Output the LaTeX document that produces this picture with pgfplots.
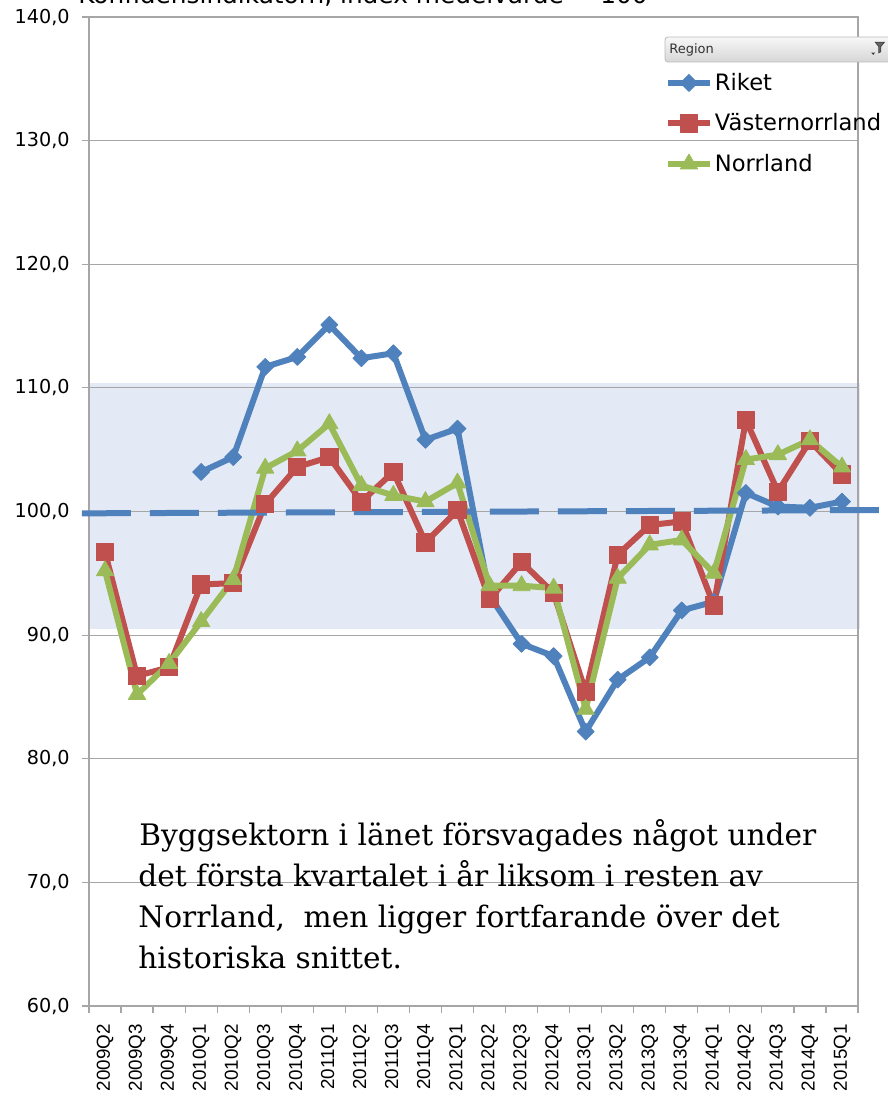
\documentclass[border=0pt]{standalone}
\usepackage{fontspec}
\usepackage{pgfplots}
\pgfplotsset{compat=1.18}
\setmainfont{DejaVu Sans}
\newfontfamily\ytf{DejaVu Sans}
\newfontfamily\xtf{Liberation Sans}
\newfontfamily\annf{DejaVu Serif}
\definecolor{cBlue}{HTML}{4F81BD}
\definecolor{cRed}{HTML}{C0504D}
\definecolor{cGreen}{HTML}{9BBB59}
\definecolor{band}{HTML}{E3EAF5}
\definecolor{gridc}{HTML}{A6A6A6}
\begin{document}
\begin{tikzpicture}
\begin{axis}[
  at={(44.5pt,45.5pt)}, anchor=south west,
  scale only axis, width=384.5pt, height=494.5pt,
  xmin=-0.5, xmax=23.5, ymin=60, ymax=140,
  ytick={60,70,...,140},
  xtick={0,...,23},
  xticklabels={2009Q2,2009Q3,2009Q4,2010Q1,2010Q2,2010Q3,2010Q4,2011Q1,2011Q2,2011Q3,2011Q4,2012Q1,2012Q2,2012Q3,2012Q4,2013Q1,2013Q2,2013Q3,2013Q4,2014Q1,2014Q2,2014Q3,2014Q4,2015Q1},
  minor xtick={-0.5,0.5,...,23.5},
  ymajorgrids, major grid style={gridc, line width=0.6pt},
  axis line style={gridc, line width=0.6pt},
  tick align=outside, tick pos=left,
  major tick length=3.5pt, minor tick length=3.5pt,
  tick style={gridc, line width=0.6pt},
  major x tick style={draw=none},
  /pgf/number format/assume math mode=true,
  yticklabel={\pgfmathprintnumber[fixed,fixed zerofill,precision=1,use comma]{\tick}},
  yticklabel style={font=\ytf\fontsize{9.6}{11}\selectfont, inner sep=0pt, anchor=east},
  yticklabel shift=6pt,
  xticklabel style={font=\xtf\fontsize{9.4}{11}\selectfont, inner sep=0pt, rotate=90, anchor=east},
  xticklabel shift=5.5pt,
  set layers, clip=false,
  legend style={at={(axis description cs:0.749,0.9535)}, anchor=north west, draw=none, fill=none,
    inner sep=0pt, outer sep=0pt, row sep=0.25pt, font=\ytf\fontsize{11.3}{13}\selectfont,
    nodes={inner sep=1pt}, cells={anchor=west}},
  legend image code/.code={\draw[#1, mark repeat=2, mark phase=2] plot coordinates {(0pt,0pt) (10.5pt,0pt) (21pt,0pt)}; \path (0pt,-8.5pt) (0pt,8.5pt);},
]
\addplot[draw=none, fill=band, forget plot, on layer=axis background] coordinates {(-0.5,90.5) (23.56,90.5) (23.56,110.4) (-0.5,110.4)} -- cycle;
\addplot[cBlue, line width=3pt, line join=round, mark=square*, mark size=3pt, mark options={rotate=45, solid, fill=cBlue, line width=0.4pt}] coordinates {
(3,103.2) (4,104.4) (5,111.7) (6,112.5) (7,115.1) (8,112.4) (9,112.8) (10,105.8) (11,106.7) (12,93.2) (13,89.3) (14,88.3) (15,82.2) (16,86.4) (17,88.2) (18,92.0) (19,92.7) (20,101.5) (21,100.4) (22,100.3) (23,100.8)};
\addlegendentry{Riket}
\addplot[cRed, line width=3pt, line join=round, mark=square*, mark size=4.3pt, mark options={solid, fill=cRed, line width=0.4pt}] coordinates {
(0,96.7) (1,86.7) (2,87.4) (3,94.1) (4,94.2) (5,100.6) (6,103.6) (7,104.4) (8,100.8) (9,103.2) (10,97.5) (11,100.1) (12,92.9) (13,95.9) (14,93.4) (15,85.4) (16,96.5) (17,98.9) (18,99.2) (19,92.4) (20,107.4) (21,101.6) (22,105.7) (23,103.0)};
\addlegendentry{Västernorrland}
\addplot[cGreen, line width=3pt, line join=round, mark=triangle*, mark size=5pt, mark options={solid, fill=cGreen, line width=0.4pt}] coordinates {
(0,95.2) (1,85.2) (2,87.7) (3,91.1) (4,94.5) (5,103.5) (6,104.9) (7,107.1) (8,102.1) (9,101.3) (10,100.8) (11,102.3) (12,94.0) (13,94.0) (14,93.8) (15,84.0) (16,94.6) (17,97.3) (18,97.7) (19,95.0) (20,104.2) (21,104.6) (22,105.8) (23,103.6)};
\addlegendentry{Norrland}
\addplot[cBlue, line width=3pt, dash pattern=on 24.5pt off 9.5pt, forget plot] coordinates {(-0.72,99.85) (24.34,100.12)};
\end{axis}
\begin{pgfinterruptboundingbox}
% pivot chart field button
\shade[top color=gray!6, bottom color=gray!32, draw=gray!55, rounded corners=1.5pt] (332.5pt,517.5pt) rectangle (447pt,530pt);
\node[anchor=west, inner sep=0pt, font=\ytf\fontsize{6.5}{7}\selectfont, text=black!80] at (334.5pt,523.6pt) {Region};
\draw[black!75, line width=0.35pt, fill=black!60] (437.6pt,527.4pt) -- (442.2pt,527.4pt) -- (440.4pt,525.2pt) -- (440.4pt,522.6pt) -- (439.4pt,522.1pt) -- (439.4pt,525.2pt) -- cycle;
\fill[black!75] (435.6pt,522.2pt) -- (437.6pt,522.2pt) -- (436.6pt,521.0pt) -- cycle;
% title (cut off by the page edge, as in the reference)
\node[anchor=base west, inner sep=0pt, font=\ytf\fontsize{12.4}{14}\selectfont] at (39pt,546.75pt) {Konfidensindikatorn, index medelvärde = 100};
\end{pgfinterruptboundingbox}
% annotation
\begin{scope}[every node/.style={anchor=base west, inner sep=0pt, font=\annf\fontsize{14.8}{18}\selectfont}]
\node at (69.5pt,125.5pt) {Byggsektorn i länet försvagades något under};
\node at (69pt,105pt) {det första kvartalet i år liksom i resten av};
\node at (69pt,84.5pt) {Norrland,\ \ men ligger fortfarande över det};
\node at (69pt,64pt) {historiska snittet.};
\end{scope}
\pgfresetboundingbox
\path (0pt,0pt) rectangle (444pt,548.5pt);
\end{tikzpicture}
\end{document}
